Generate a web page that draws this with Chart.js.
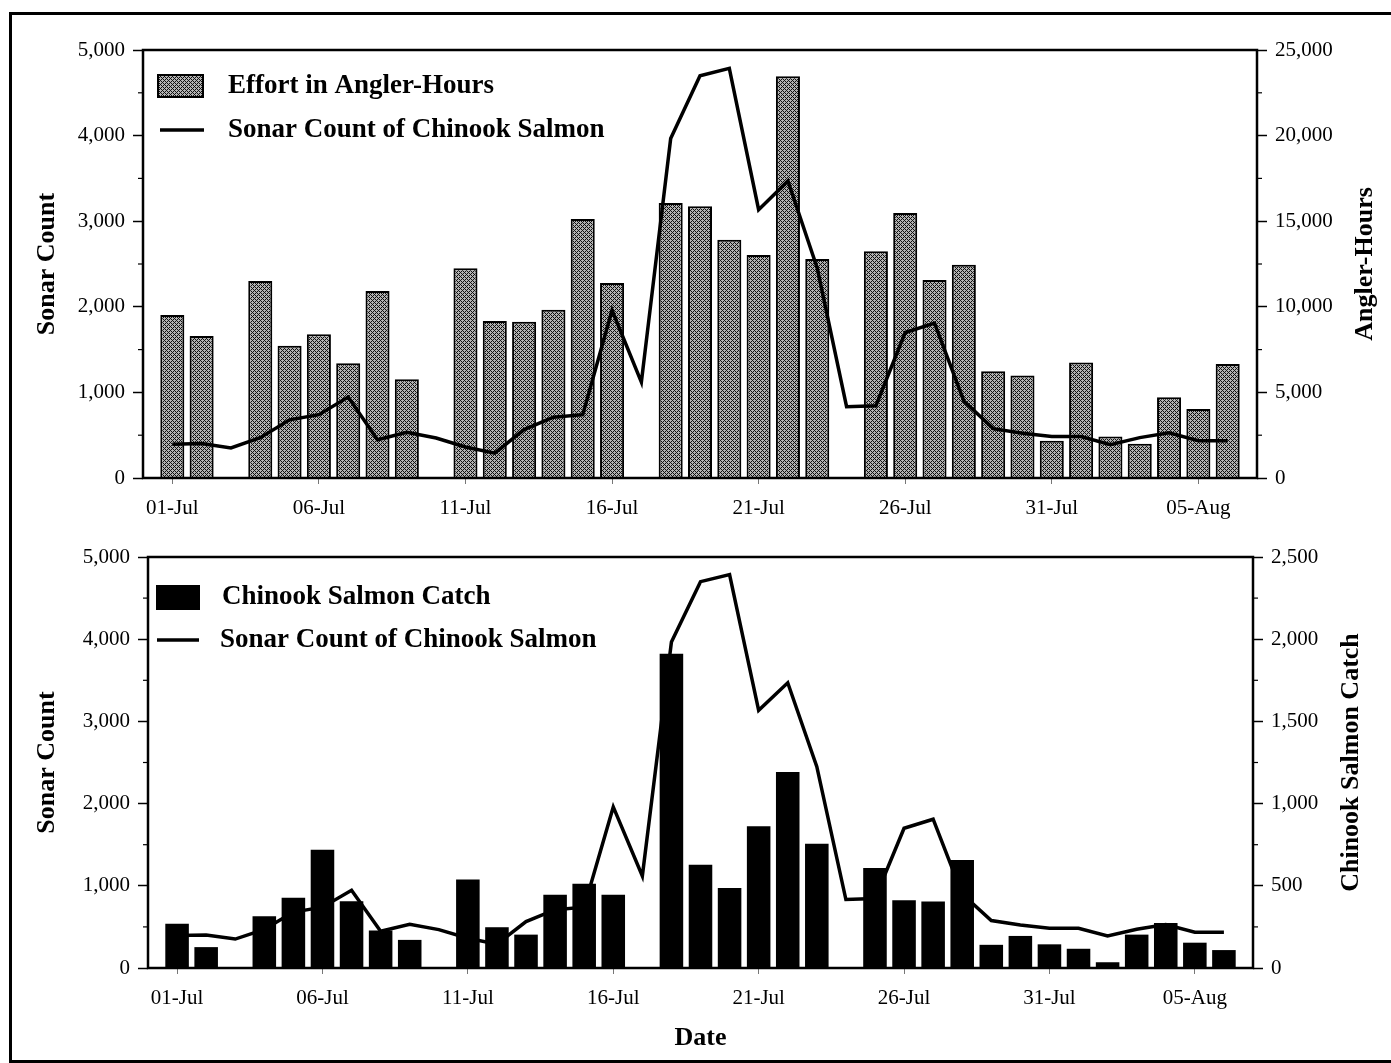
<!DOCTYPE html>
<html>
<head>
<meta charset="utf-8">
<script src="https://cdn.jsdelivr.net/npm/chart.js@4.4.1/dist/chart.umd.min.js"></script>
<style>
  body { margin: 0; background: #fff; width: 1391px; height: 1063px; overflow: hidden; position: relative; }
  #frame { position: absolute; left: 9px; top: 12px; width: 1400px; height: 1045px; border: 3px solid #000; }
  .panel { position: absolute; left: 0; }
  #top { top: 0; }
  #bottom { top: 530px; }
</style>
</head>
<body>
<div id="frame"></div>
<div class="panel" id="top"><canvas id="effortChart" width="1391" height="530"></canvas></div>
<div class="panel" id="bottom"><canvas id="catchChart" width="1391" height="533"></canvas></div>

<script>
const dates = [
  "01-Jul","02-Jul","03-Jul","04-Jul","05-Jul","06-Jul","07-Jul","08-Jul","09-Jul","10-Jul",
  "11-Jul","12-Jul","13-Jul","14-Jul","15-Jul","16-Jul","17-Jul","18-Jul","19-Jul","20-Jul",
  "21-Jul","22-Jul","23-Jul","24-Jul","25-Jul","26-Jul","27-Jul","28-Jul","29-Jul","30-Jul",
  "31-Jul","01-Aug","02-Aug","03-Aug","04-Aug","05-Aug","06-Aug"
];

// sonar count of chinook salmon (same series in both panels)
const sonarCount = [
  395, 402, 352, 470, 680, 740, 945, 447, 533, 467,
  362, 290, 565, 710, 740, 1960, 1120, 3965, 4700, 4785,
  3135, 3470, 2450, 833, 845, 1700, 1810, 900, 577, 523,
  485, 484, 390, 472, 528, 436, 436
];

// effort in angler-hours (null = no bar)
const anglerHours = [
  9520, 8290, null, 11500, 7730, 8390, 6700, 10920, 5770, null,
  12250, 9170, 9130, 9830, 15130, 11390, null, 16060, 15870, 13920,
  13030, 23460, 12790, null, 13240, 15480, 11570, 12460, 6230, 5980,
  2180, 6750, 2430, 2000, 4710, 4030, 6660
];

const salmonCatch = [
  269, 127, null, 315, 427, 719, 406, 228, 171, null,
  538, 248, 203, 446, 513, 446, null, 1912, 628, 487,
  862, 1192, 756, null, 608, 412, 405, 657, 141, 195,
  144, 117, 35, 203, 273, 154, 109
];

const sonarTicks = [0, 1000, 2000, 3000, 4000, 5000];
const hoursTicks = [0, 5000, 10000, 15000, 20000, 25000];
const catchTicks = [0, 500, 1000, 1500, 2000, 2500];

const serif = "'Liberation Serif', 'Times New Roman', serif";

const toPoints = (arr) => arr.map((v, i) => ({ x: i, y: v })).filter(p => p.y !== null);

// crosshatch fill like the printed bars
const makeHatch = () => {
  const c = document.createElement("canvas");
  c.width = 4; c.height = 4;
  const g = c.getContext("2d");
  g.fillStyle = "#b2b2b2";
  g.fillRect(0, 0, 4, 4);
  g.fillStyle = "#111";
  [[0,0],[1,1],[2,2],[3,3],[1,3],[3,1]].forEach(p => g.fillRect(p[0], p[1], 1, 1));
  return g.createPattern(c, "repeat");
};
const hatch = makeHatch();

// legend drawn inside the plot
const insideLegend = {
  id: "insideLegend",
  afterDraw(chart, args, opts) {
    const ctx = chart.ctx;
    ctx.save();
    ctx.font = "bold 27px " + serif;
    ctx.fillStyle = "#000";
    ctx.textBaseline = "middle";
    opts.items.forEach(item => {
      const ds = chart.data.datasets[item.ds];
      if (item.kind === "box") {
        ctx.fillStyle = ds.backgroundColor;
        ctx.fillRect(item.x, item.y, item.w, item.h);
        if (ds.borderWidth) {
          ctx.strokeStyle = "#000";
          ctx.lineWidth = 2;
          ctx.strokeRect(item.x, item.y, item.w, item.h);
        }
        ctx.fillStyle = "#000";
        ctx.fillText(ds.label, item.tx, item.y + item.h / 2);
      } else {
        ctx.strokeStyle = "#000";
        ctx.lineWidth = 3.5;
        ctx.beginPath();
        ctx.moveTo(item.x, item.y);
        ctx.lineTo(item.x + item.w, item.y);
        ctx.stroke();
        ctx.fillText(ds.label, item.tx, item.y);
      }
    });
    ctx.restore();
  }
};

// box round the plot, minor ticks, right axis title (reads bottom to top)
const frameAndTitles = {
  id: "frameAndTitles",
  afterDatasetsDraw(chart, args, opts) {
    const ctx = chart.ctx;
    const a = chart.chartArea;
    ctx.save();
    ctx.strokeStyle = "#000";
    ctx.lineWidth = 2.5;
    ctx.strokeRect(a.left, a.top, a.right - a.left, a.bottom - a.top);

    ctx.lineWidth = 1.2;
    opts.minor.forEach(m => {
      const s = chart.scales[m.id];
      for (let v = m.step / 2; v < s.max; v += m.step) {
        const y = s.getPixelForValue(v);
        ctx.beginPath();
        if (m.id === "y") { ctx.moveTo(a.left, y); ctx.lineTo(a.left - 5, y); }
        else { ctx.moveTo(a.right, y); ctx.lineTo(a.right + 5, y); }
        ctx.stroke();
      }
    });

    ctx.font = "bold 26px " + serif;
    ctx.fillStyle = "#000";
    ctx.textAlign = "center";
    ctx.textBaseline = "middle";
    ctx.translate(opts.rightTitleX, (a.top + a.bottom) / 2);
    ctx.rotate(-Math.PI / 2);
    ctx.fillText(opts.rightTitle, 0, 0);
    ctx.restore();
  }
};

const xScale = (height, withTitle) => ({
  type: "linear",
  min: -1,
  max: 37,
  offset: false,
  afterFit: (s) => { s.height = height; },
  border: { display: false },
  grid: { drawOnChartArea: false, offset: false, tickLength: 6, color: "#777", tickWidth: 1 },
  ticks: {
    stepSize: 5,
    includeBounds: false,
    maxRotation: 0,
    autoSkip: false,
    padding: 12,
    color: "#000",
    font: { family: serif, size: 21 },
    callback: (v) => dates[v]
  },
  title: withTitle
    ? { display: true, text: "Date", color: "#000", font: { family: serif, size: 26, weight: "bold" }, padding: { bottom: 9 } }
    : { display: false }
});

const yScale = (pos, max, step, width, tickList, title) => ({
  type: "linear",
  position: pos,
  min: 0,
  max: max,
  afterFit: (s) => { s.width = width; },
  afterBuildTicks: (s) => { s.ticks = tickList.map(v => ({ value: v })); },
  border: { display: false },
  grid: { drawOnChartArea: false, tickLength: 10, color: "#000", tickWidth: 1.5 },
  ticks: {
    stepSize: step,
    padding: 8,
    color: "#000",
    font: { family: serif, size: 21 },
    callback: (v) => v.toLocaleString("en-US")
  },
  title: title
    ? { display: true, text: title, color: "#000", font: { family: serif, size: 26, weight: "bold" }, padding: { top: 32 } }
    : { display: false }
});

const effortChart = new Chart(document.getElementById("effortChart"), {
  type: "bar",
  data: {
    datasets: [
      {
        type: "line",
        label: "Sonar Count of Chinook Salmon",
        data: toPoints(sonarCount),
        yAxisID: "y",
        borderColor: "#000",
        borderWidth: 3.5,
        pointRadius: 0,
        tension: 0,
        order: 0
      },
      {
        type: "bar",
        label: "Effort in Angler-Hours",
        data: toPoints(anglerHours),
        yAxisID: "y2",
        backgroundColor: hatch,
        borderColor: "#000",
        borderWidth: 2,
        borderSkipped: "bottom",
        barPercentage: 0.82,
        categoryPercentage: 1,
        order: 1
      }
    ]
  },
  options: {
    responsive: false,
    animation: false,
    layout: { padding: { top: 50, left: 0, right: 0, bottom: 0 } },
    scales: {
      x: xScale(52, false),
      y: yScale("left", 5000, 1000, 143, sonarTicks, "Sonar Count"),
      y2: yScale("right", 25000, 5000, 134, hoursTicks, null)
    },
    plugins: {
      legend: { display: false },
      tooltip: { enabled: false },
      insideLegend: {
        items: [
          { ds: 1, kind: "box", x: 158, y: 75, w: 45, h: 22, tx: 228 },
          { ds: 0, kind: "line", x: 160, y: 130, w: 44, tx: 228 }
        ]
      },
      frameAndTitles: {
        minor: [{ id: "y", step: 1000 }, { id: "y2", step: 5000 }],
        rightTitle: "Angler-Hours",
        rightTitleX: 1365
      }
    }
  },
  plugins: [insideLegend, frameAndTitles]
});

const catchChart = new Chart(document.getElementById("catchChart"), {
  type: "bar",
  data: {
    datasets: [
      {
        type: "line",
        label: "Sonar Count of Chinook Salmon",
        data: toPoints(sonarCount),
        yAxisID: "y",
        borderColor: "#000",
        borderWidth: 3.5,
        pointRadius: 0,
        tension: 0,
        order: 0
      },
      {
        type: "bar",
        label: "Chinook Salmon Catch",
        data: toPoints(salmonCatch),
        yAxisID: "y2",
        backgroundColor: "#000",
        borderWidth: 0,
        barPercentage: 0.81,
        categoryPercentage: 1,
        order: 1
      }
    ]
  },
  options: {
    responsive: false,
    animation: false,
    layout: { padding: { top: 27, left: 0, right: 0, bottom: 0 } },
    scales: {
      x: xScale(95, true),
      y: yScale("left", 5000, 1000, 148, sonarTicks, "Sonar Count"),
      y2: yScale("right", 2500, 500, 138, catchTicks, null)
    },
    plugins: {
      legend: { display: false },
      tooltip: { enabled: false },
      insideLegend: {
        items: [
          { ds: 1, kind: "box", x: 156, y: 55, w: 44, h: 25, tx: 222 },
          { ds: 0, kind: "line", x: 157, y: 110, w: 42, tx: 220 }
        ]
      },
      frameAndTitles: {
        minor: [{ id: "y", step: 1000 }, { id: "y2", step: 500 }],
        rightTitle: "Chinook Salmon Catch",
        rightTitleX: 1351
      }
    }
  },
  plugins: [insideLegend, frameAndTitles]
});
</script>
</body>
</html>
